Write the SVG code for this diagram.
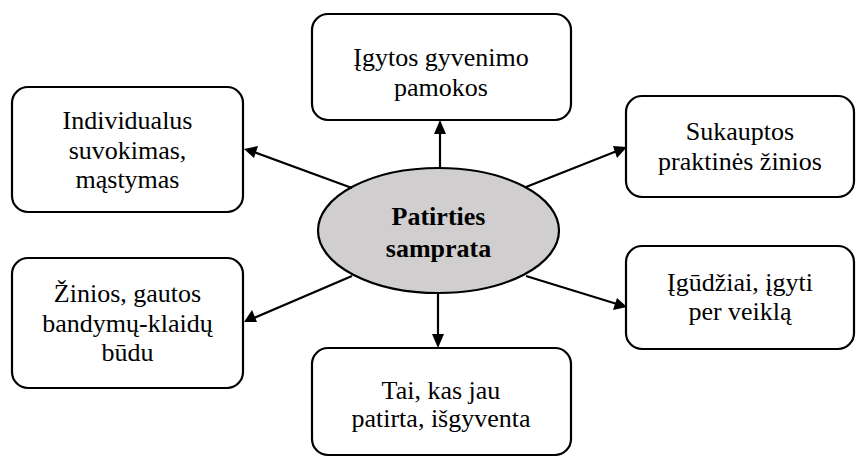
<svg xmlns="http://www.w3.org/2000/svg" width="856" height="457" viewBox="0 0 856 457">
<rect width="856" height="457" fill="#fff"/>
<g id="center">
<ellipse cx="438.5" cy="230.5" rx="120.5" ry="62.5" fill="#d0cece" stroke="#000" stroke-width="2.2"/>
<text font-family="Liberation Serif" font-size="26" text-anchor="middle" font-weight="bold" x="438.5" y="225">Patirties</text>
<text font-family="Liberation Serif" font-size="26" text-anchor="middle" font-weight="bold" x="438.5" y="257">samprata</text>
</g>
<g id="n-top">
<rect fill="#fff" stroke="#000" stroke-width="2.2" x="312" y="14" width="259" height="106" rx="16"/>
<text font-family="Liberation Serif" font-size="26" text-anchor="middle" x="441" y="66">Įgytos gyvenimo</text>
<text font-family="Liberation Serif" font-size="26" text-anchor="middle" x="441" y="96">pamokos</text>
</g>
<g id="n-left-top">
<rect fill="#fff" stroke="#000" stroke-width="2.2" x="12" y="87" width="231" height="125" rx="16"/>
<text font-family="Liberation Serif" font-size="26" text-anchor="middle" x="127.5" y="129">Individualus</text>
<text font-family="Liberation Serif" font-size="26" text-anchor="middle" x="127.5" y="159">suvokimas,</text>
<text font-family="Liberation Serif" font-size="26" text-anchor="middle" x="127.5" y="188">mąstymas</text>
</g>
<g id="n-right-top">
<rect fill="#fff" stroke="#000" stroke-width="2.2" x="626" y="96" width="228" height="101" rx="16"/>
<text font-family="Liberation Serif" font-size="26" text-anchor="middle" x="740" y="140">Sukauptos</text>
<text font-family="Liberation Serif" font-size="26" text-anchor="middle" x="740" y="170">praktinės žinios</text>
</g>
<g id="n-left-bottom">
<rect fill="#fff" stroke="#000" stroke-width="2.2" x="12" y="258" width="231" height="130" rx="16"/>
<text font-family="Liberation Serif" font-size="26" text-anchor="middle" x="127.5" y="302">Žinios, gautos</text>
<text font-family="Liberation Serif" font-size="26" text-anchor="middle" x="127.5" y="332">bandymų-klaidų</text>
<text font-family="Liberation Serif" font-size="26" text-anchor="middle" x="127.5" y="361">būdu</text>
</g>
<g id="n-right-bottom">
<rect fill="#fff" stroke="#000" stroke-width="2.2" x="626" y="246" width="228" height="103" rx="16"/>
<text font-family="Liberation Serif" font-size="26" text-anchor="middle" x="740" y="291">Įgūdžiai, įgyti</text>
<text font-family="Liberation Serif" font-size="26" text-anchor="middle" x="740" y="320">per veiklą</text>
</g>
<g id="n-bottom">
<rect fill="#fff" stroke="#000" stroke-width="2.2" x="312" y="348" width="259" height="107" rx="16"/>
<text font-family="Liberation Serif" font-size="26" text-anchor="middle" x="441" y="399">Tai, kas jau</text>
<text font-family="Liberation Serif" font-size="26" text-anchor="middle" x="441" y="427">patirta, išgyventa</text>
</g>
<g id="connectors" stroke="#000" stroke-width="2.2" fill="none">
<line x1="440" y1="168" x2="440" y2="130" />
<line x1="438" y1="293" x2="438" y2="338" />
<line x1="352" y1="188" x2="254" y2="152" />
<line x1="526" y1="187" x2="617" y2="151" />
<line x1="352" y1="276" x2="254" y2="318" />
<line x1="526" y1="276" x2="617" y2="304" />
<g fill="#000" stroke="none">
<polygon points="440,120 434,134 446,134"/>
<polygon points="438,348 432,334 444,334"/>
<polygon points="244,149 258,146 254,158"/>
<polygon points="627,147 617,158 613,146"/>
<polygon points="244,322 252,310 257,322"/>
<polygon points="627,307 613,310 617,298"/>
</g>
</g>
</svg>
